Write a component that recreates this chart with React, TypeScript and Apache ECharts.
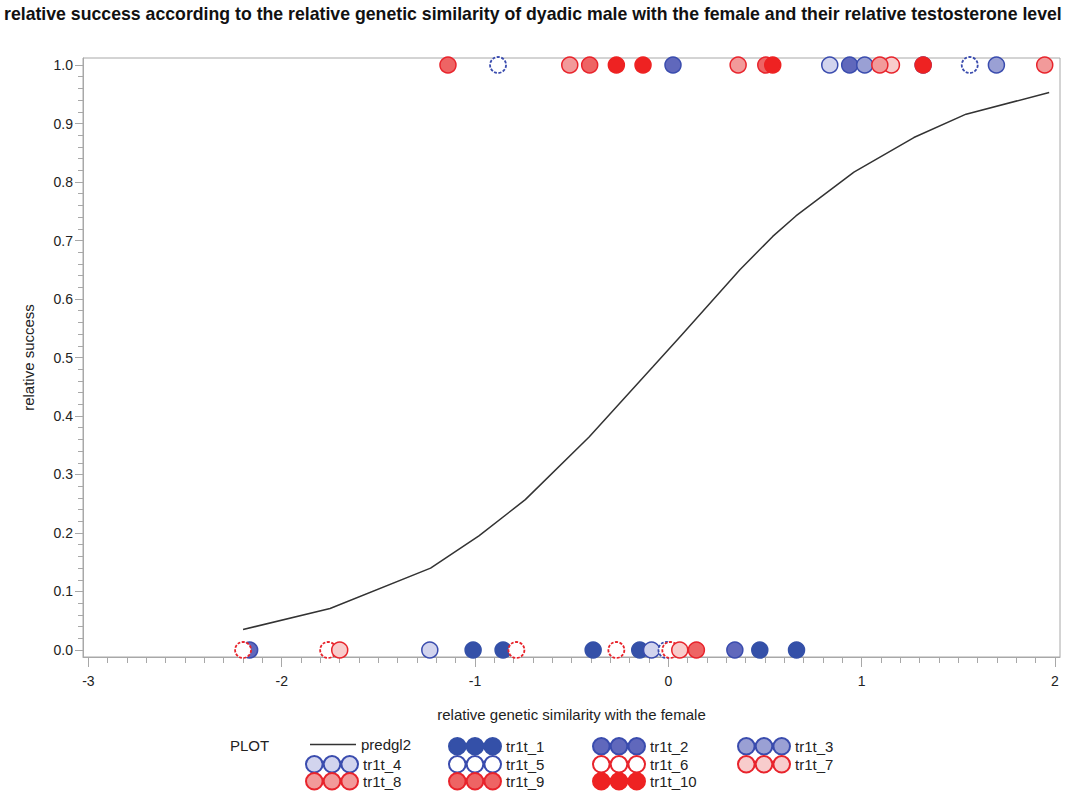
import React, { useEffect, useRef } from "react";
import * as echarts from "echarts";

const titleText =
  "relative success according to the relative genetic similarity of dyadic male with the female and their relative testosterone level";
const xName = "relative genetic similarity with the female";
const yName = "relative success";

const xTickValues = [-3, -2, -1, 0, 1, 2];
const yTickValues = [0, 0.1, 0.2, 0.3, 0.4, 0.5, 0.6, 0.7, 0.8, 0.9, 1.0];

// predicted curve (predgl2)
const predgl2: number[][] = [
  [-2.2, 0.035], [-1.75, 0.071], [-1.23, 0.14], [-0.98, 0.195], [-0.74, 0.257],
  [-0.41, 0.364], [-0.08, 0.484], [0.07, 0.539], [0.37, 0.65], [0.54, 0.707],
  [0.66, 0.742], [0.96, 0.817], [1.27, 0.876], [1.54, 0.916], [1.97, 0.953],
];

// observations [x, y]
const tr1t_1: number[][] = [[-1.01, 0], [-0.855, 0], [-0.389, 0], [-0.148, 0], [0.473, 0], [0.663, 0]];
const tr1t_2: number[][] = [[-2.166, 0], [0.344, 0], [0.024, 1], [0.938, 1], [1.318, 1]];
const tr1t_3: number[][] = [[1.016, 1], [1.697, 1]];
const tr1t_4: number[][] = [[-1.234, 0], [-0.087, 0], [0.835, 1]];
const tr1t_5: number[][] = [[-0.881, 1], [1.559, 1], [-0.01, 0]];
const tr1t_6: number[][] = [[-2.2, 0], [-1.76, 0], [-0.786, 0], [-0.269, 0], [0.01, 0]];
const tr1t_7: number[][] = [[-1.7, 0], [0.059, 0], [1.154, 1]];
const tr1t_8: number[][] = [[-0.51, 1], [0.361, 1], [1.094, 1], [1.947, 1]];
const tr1t_9: number[][] = [[-1.14, 1], [-0.407, 1], [0.504, 1], [0.145, 0]];
const tr1t_10: number[][] = [[-0.269, 1], [-0.131, 1], [0.54, 1], [1.318, 1]];

const BLUE = "#3a4cae";
const RED = "#e8242c";

const scatterDefs = [
  { name: "tr1t_1", data: tr1t_1, fill: "#3450a8", border: "#3450a8", dashed: false },
  { name: "tr1t_2", data: tr1t_2, fill: "#6068bc", border: BLUE, dashed: false },
  { name: "tr1t_3", data: tr1t_3, fill: "#9aa0d4", border: BLUE, dashed: false },
  { name: "tr1t_4", data: tr1t_4, fill: "#d2d4ee", border: BLUE, dashed: false },
  { name: "tr1t_5", data: tr1t_5, fill: "#ffffff", border: BLUE, dashed: true },
  { name: "tr1t_6", data: tr1t_6, fill: "#ffffff", border: RED, dashed: true },
  { name: "tr1t_7", data: tr1t_7, fill: "#f8cccc", border: RED, dashed: false },
  { name: "tr1t_8", data: tr1t_8, fill: "#f29a9a", border: RED, dashed: false },
  { name: "tr1t_9", data: tr1t_9, fill: "#ee6464", border: RED, dashed: false },
  { name: "tr1t_10", data: tr1t_10, fill: "#ee2222", border: "#ee2222", dashed: false },
];

// legend layout: [name, left, top]
const legendSlots: [string, number, number][] = [
  ["predgl2", 310, 737],
  ["tr1t_1", 448, 737],
  ["tr1t_2", 592, 737],
  ["tr1t_3", 737, 737],
  ["tr1t_4", 305, 755],
  ["tr1t_5", 448, 755],
  ["tr1t_6", 592, 755],
  ["tr1t_7", 737, 755],
  ["tr1t_8", 305, 772],
  ["tr1t_9", 448, 772],
  ["tr1t_10", 592, 772],
];

const FONT = "'Liberation Sans', Arial, sans-serif";
const AXIS_GREY = "#a8a8a8";
const TEXT = "#222222";

const X_MIN = -3.028;
const X_MAX = 2.026;
const Y_MIN = -0.012;
const Y_MAX = 1.012;

const xMinor: number[] = [];
for (let i = -30; i <= 20; i++) xMinor.push(i / 10);
const yMinor: number[] = [];
for (let i = 0; i <= 50; i++) yMinor.push(i / 50);

const circ = (cx: number) =>
  `M${cx - 8.2},8.5A8.2,8.2,0,1,1,${cx + 8.2},8.5A8.2,8.2,0,1,1,${cx - 8.2},8.5Z`;
const triIcon = "path://" + circ(8.5) + " " + circ(26) + " " + circ(43.5);
const lineIcon = "path://M0,0L46,0L46,1.5L0,1.5Z";

export default function App() {
  const ref = useRef<HTMLDivElement>(null);
  useEffect(() => {
    if (!ref.current) return;
    const chart = echarts.init(ref.current, undefined, { renderer: "svg" });

    const series: any[] = [
      {
        name: "predgl2",
        type: "line",
        data: predgl2,
        symbol: "none",
        showSymbol: false,
        lineStyle: { color: "#333333", width: 1.5 },
        itemStyle: { color: "#333333" },
        z: 1,
      },
      ...scatterDefs.map((d) => ({
        name: d.name,
        type: "scatter",
        data: d.data,
        symbol: "circle",
        symbolSize: 16,
        itemStyle: {
          color: d.fill,
          borderColor: d.border,
          borderWidth: d.dashed ? 1.8 : 1.5,
          borderType: d.dashed ? [3, 1.5] : "solid",
          opacity: 1,
        },
        z: 3,
      })),
    ];

    const legends = legendSlots.map(([name, left, top]) => ({
      data: [{ name, icon: name === "predgl2" ? lineIcon : triIcon }],
      left,
      top,
      padding: 0,
      itemWidth: name === "predgl2" ? 46 : 52,
      itemHeight: 17,
      textStyle: { fontFamily: FONT, fontSize: 15, color: TEXT },
      selectedMode: false,
    }));

    const labelStyle = { fontFamily: FONT, fontSize: 14, color: TEXT };

    chart.setOption({
      animation: false,
      backgroundColor: "#ffffff",
      title: {
        text: titleText,
        left: 4,
        top: 5,
        padding: 0,
        textStyle: {
          fontFamily: FONT,
          fontSize: 17.7,
          fontWeight: "bold",
          color: "#111111",
        },
      },
      grid: {
        left: 83,
        top: 58,
        right: 13,
        bottom: 134,
        show: true,
        borderColor: AXIS_GREY,
        borderWidth: 1,
        backgroundColor: "transparent",
      },
      legend: legends,
      graphic: [
        {
          type: "text",
          left: 230,
          top: 738,
          style: { text: "PLOT", font: `15px ${FONT}`, fill: TEXT },
        },
      ],
      xAxis: [
        {
          type: "value",
          position: "bottom",
          min: X_MIN,
          max: X_MAX,
          name: xName,
          nameLocation: "middle",
          nameGap: 50,
          nameTextStyle: { fontFamily: FONT, fontSize: 15, color: TEXT },
          axisLine: { show: true, onZero: false, lineStyle: { color: AXIS_GREY, width: 1 } },
          axisTick: { show: true, customValues: xTickValues, length: 10, lineStyle: { color: AXIS_GREY } },
          axisLabel: { customValues: xTickValues, margin: 17, ...labelStyle },
          splitLine: { show: false },
        },
        {
          type: "value",
          position: "bottom",
          min: X_MIN,
          max: X_MAX,
          axisLine: { show: false, onZero: false },
          axisTick: { show: true, customValues: xMinor, length: 6, lineStyle: { color: AXIS_GREY } },
          axisLabel: { show: false },
          splitLine: { show: false },
        },
      ],
      yAxis: [
        {
          type: "value",
          position: "left",
          min: Y_MIN,
          max: Y_MAX,
          name: yName,
          nameLocation: "middle",
          nameGap: 47,
          nameTextStyle: { fontFamily: FONT, fontSize: 15, color: TEXT },
          axisLine: { show: true, onZero: false, lineStyle: { color: AXIS_GREY, width: 1 } },
          axisTick: { show: true, customValues: yTickValues, length: 8, lineStyle: { color: AXIS_GREY } },
          axisLabel: {
            customValues: yTickValues,
            margin: 10,
            formatter: (v: number) => v.toFixed(1),
            ...labelStyle,
          },
          splitLine: { show: false },
        },
        {
          type: "value",
          position: "left",
          min: Y_MIN,
          max: Y_MAX,
          axisLine: { show: false, onZero: false },
          axisTick: { show: true, customValues: yMinor, length: 5, lineStyle: { color: AXIS_GREY } },
          axisLabel: { show: false },
          splitLine: { show: false },
        },
      ],
      series,
    });
    return () => chart.dispose();
  }, []);

  return (
    <div
      ref={ref}
      style={{ position: "absolute", left: 0, top: 0, width: 1073, height: 791 }}
    />
  );
}
